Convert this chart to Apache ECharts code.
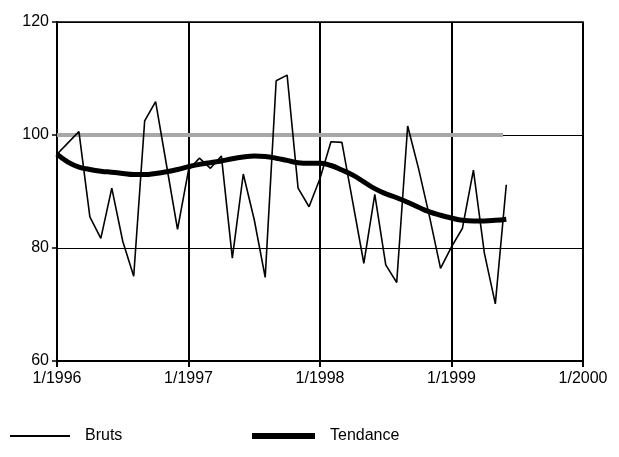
<!DOCTYPE html>
<html>
<head>
<meta charset="utf-8">
<script src="https://cdn.jsdelivr.net/npm/echarts@6/dist/echarts.min.js"></script>
<style>
  html, body { margin: 0; padding: 0; background: #fff; }
  #chart { width: 619px; height: 457px; }
</style>
</head>
<body>
<div id="chart"></div>
<script>
// months counted from 1/1996
var yearLabels = ['1/1996', '1/1997', '1/1998', '1/1999', '1/2000'];

var bruts = [96.6, 98.6, 100.6, 85.5, 81.7, 90.6, 81.2, 75.0, 102.5, 105.9, 94.6, 83.3,
  93.8, 95.9, 94.1, 96.3, 78.2, 93.1, 85.0, 74.8, 109.6, 110.6, 90.6, 87.3,
  92.3, 98.8, 98.7, 88.0, 77.3, 89.5, 77.0, 73.9, 101.6, 94.0, 85.5, 76.4,
  80.2, 83.5, 93.8, 79.1, 70.1, 91.2];

var tendance = [96.6, 95.2, 94.3, 93.9, 93.6, 93.4, 93.2, 93.0, 93.0, 93.2, 93.5, 93.9,
  94.4, 94.8, 95.1, 95.4, 95.8, 96.1, 96.3, 96.2, 95.9, 95.5, 95.1, 95.0,
  95.0, 94.6, 93.8, 92.9, 91.7, 90.5, 89.6, 88.9, 88.1, 87.2, 86.4, 85.8,
  85.3, 84.9, 84.8, 84.8, 84.9, 85.1];

// base 100 reference band: start and end month
var baseMonths = [0, 40.7];
var baseValue = 100;

function toPairs(arr) {
  return arr.map(function (v, i) { return [i, v]; });
}

var legendText = { color: '#000', fontSize: 16, padding: [0, 0, 0, 10] };

var chart = echarts.init(document.getElementById('chart'));
chart.setOption({
  animation: false,
  backgroundColor: '#fff',
  textStyle: { fontFamily: 'Liberation Sans, Arial, sans-serif' },
  grid: { left: 57, right: 36, top: 22, bottom: 96, show: true, borderColor: '#000', borderWidth: 1.5 },
  legend: [
    {
      data: [{ name: 'Bruts', icon: 'rect' }],
      left: 5, top: 423,
      itemWidth: 60, itemHeight: 2,
      textStyle: legendText
    },
    {
      data: [{ name: 'Tendance', icon: 'rect' }],
      left: 247, top: 423,
      itemWidth: 63, itemHeight: 6,
      textStyle: legendText
    }
  ],
  xAxis: {
    type: 'value',
    min: 0,
    max: 48,
    interval: 12,
    axisLine: { show: true, onZero: false, lineStyle: { color: '#000', width: 2 } },
    axisTick: { show: true, length: 6, lineStyle: { color: '#000', width: 2 } },
    axisLabel: {
      color: '#000', fontSize: 16, margin: 10,
      formatter: function (v) { return yearLabels[v / 12]; }
    },
    splitLine: { show: true, lineStyle: { color: '#000', width: 2 } }
  },
  yAxis: {
    type: 'value',
    min: 60,
    max: 120,
    interval: 20,
    axisLine: { show: true, lineStyle: { color: '#000', width: 2 } },
    axisTick: { show: true, length: 5, lineStyle: { color: '#000', width: 1.5 } },
    axisLabel: { color: '#000', fontSize: 16, margin: 8 },
    splitLine: { show: true, lineStyle: { color: '#000', width: 1.2 } }
  },
  series: [
    {
      name: 'Base',
      type: 'line',
      symbol: 'none',
      data: baseMonths.map(function (m) { return [m, baseValue]; }),
      lineStyle: { color: '#a8a8a8', width: 4 },
      z: 1
    },
    {
      name: 'Bruts',
      type: 'line',
      symbol: 'none',
      data: toPairs(bruts),
      color: '#000',
      lineStyle: { color: '#000', width: 1.6 },
      z: 3
    },
    {
      name: 'Tendance',
      type: 'line',
      symbol: 'none',
      smooth: true,
      data: toPairs(tendance),
      color: '#000',
      lineStyle: { color: '#000', width: 5 },
      z: 4
    }
  ]
});
</script>
</body>
</html>
